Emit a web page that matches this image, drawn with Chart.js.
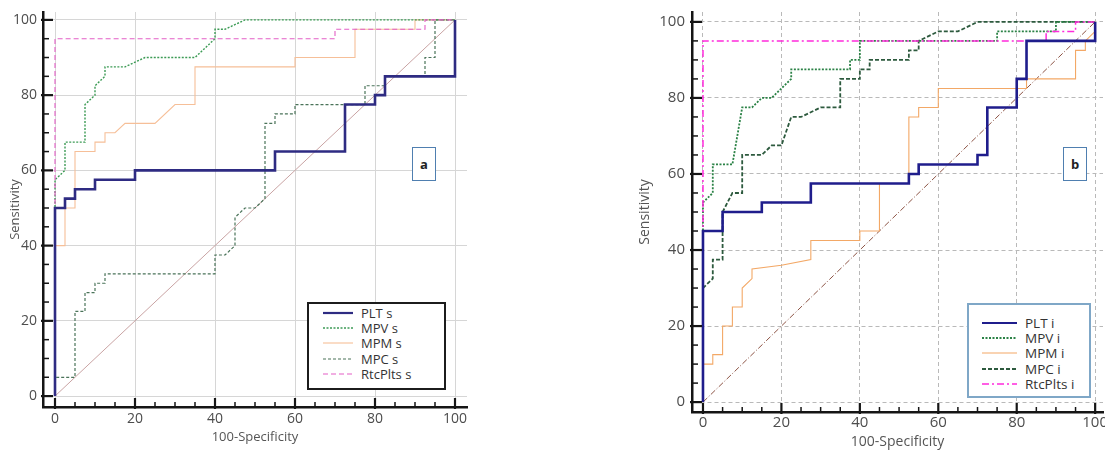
<!DOCTYPE html>
<html>
<head>
<meta charset="utf-8">
<script src="https://cdn.jsdelivr.net/npm/chart.js@4.4.1/dist/chart.umd.min.js"></script>
<style>
  body { margin: 0; background: #fff; font-family: "Open Sans", sans-serif; }
  #page { position: relative; width: 1105px; height: 450px; overflow: hidden; }
  .panel { position: absolute; top: 0; }
  .legend { position: absolute; box-sizing: border-box; background: #fff; color: #333; }
  .legend .row { display: flex; align-items: center; }
  .legend svg { display: block; margin-right: 8px; }
  .tag { position: absolute; box-sizing: border-box; border: 1px solid #4f7fb0; background: #fff;
         display: flex; align-items: center; justify-content: center; font: bold 13px "Open Sans", sans-serif; color: #222; }
</style>
</head>
<body>
<div id="page">
  <canvas id="chartA" class="panel" width="480" height="450" style="left:0"></canvas>
  <canvas id="chartB" class="panel" width="475" height="450" style="left:630px"></canvas>
  <div id="legendA" class="legend"></div>
  <div id="legendB" class="legend"></div>
  <div class="tag" style="left:412px;top:147px;width:24px;height:34px">a</div>
  <div class="tag" style="left:1063px;top:147px;width:24px;height:34px">b</div>
</div>
<script>
// ---- axis ticks ----
const AXIS_TICKS = [0, 5, 10, 15, 20, 25, 30, 35, 40, 45, 50, 55, 60, 65, 70, 75, 80, 85, 90, 95, 100];
const MAJOR_TICKS = [0, 20, 40, 60, 80, 100];

// ---- panel a (s) : [100-Specificity, Sensitivity] ----
const LABELS_S = ['PLT s', 'MPV s', 'MPM s', 'MPC s', 'RtcPlts s'];
const PLT_S = [[0,0],[0,50],[2.5,50],[2.5,52.5],[5,52.5],[5,55],[10,55],[10,57.5],[20,57.5],[20,60],[55,60],[55,65],
  [72.5,65],[72.5,77.5],[80,77.5],[80,80],[82.5,80],[82.5,85],[100,85],[100,100]];
const MPV_S = [[0,0],[0,57.5],[2.5,60],[2.5,67.5],[7.5,67.5],[7.5,77.5],[10,80],[10,82.5],[12.5,85],[12.5,87.5],
  [17.5,87.5],[22.5,90],[35,90],[40,95],[40,97.5],[42.5,97.5],[47.5,100],[100,100]];
const MPM_S = [[0,0],[0,40],[2.5,40],[2.5,50],[5,50],[5,65],[10,65],[10,67.5],[12.5,67.5],[12.5,70],[15,70],
  [17.5,72.5],[25,72.5],[30,77.5],[35,77.5],[35,87.5],[60,87.5],[60,90],[75,90],[75,97.5],[90,97.5],[90,100],[100,100]];
const MPC_S = [[0,0],[0,5],[5,5],[5,22.5],[7.5,22.5],[7.5,27.5],[10,27.5],[10,30],[12.5,30],[12.5,32.5],[40,32.5],
  [40,37.5],[42.5,37.5],[45,40],[45,47.5],[47.5,50],[50,50],[52.5,52.5],[52.5,72.5],[55,72.5],[55,75],[60,75],[60,77.5],
  [77.5,77.5],[77.5,82.5],[82.5,82.5],[82.5,85],[92.5,85],[92.5,90],[95,90],[95,100],[100,100]];
const RTC_S = [[0,0],[0,95],[70,95],[70,97.5],[92.5,97.5],[92.5,100],[100,100]];

// ---- panel b (i) ----
const LABELS_I = ['PLT i', 'MPV i', 'MPM i', 'MPC i', 'RtcPlts i'];
const PLT_I = [[0,0],[0,45],[5,45],[5,50],[15,50],[15,52.5],[27.5,52.5],[27.5,57.5],[52.5,57.5],[52.5,60],[55,60],
  [55,62.5],[70,62.5],[70,65],[72.5,65],[72.5,77.5],[80,77.5],[80,85],[82.5,85],[82.5,95],[100,95],[100,100]];
const MPV_I = [[0,0],[0,52.5],[2.5,55],[2.5,62.5],[7.5,62.5],[10,77.5],[12.5,77.5],[15,80],[17.5,80],[22.5,85],
  [22.5,87.5],[37.5,87.5],[37.5,90],[40,90],[40,95],[75,95],[75,97.5],[90,97.5],[90,100],[100,100]];
const MPM_I = [[0,0],[0,10],[2.5,10],[2.5,12.5],[5,12.5],[5,20],[7.5,20],[7.5,25],[10,25],[10,30],[12.5,32.5],
  [12.5,35],[20,36],[27.5,37.5],[27.5,42.5],[40,42.5],[40,45],[45,45],[45,57.5],[52.5,57.5],[52.5,75],[55,75],
  [55,77.5],[60,77.5],[60,82.5],[82.5,82.5],[82.5,85],[95,85],[95,92.5],[97.5,92.5],[97.5,95],[100,97.5],[100,100]];
const MPC_I = [[0,0],[0,30],[2.5,32.5],[2.5,37.5],[5,37.5],[5,50],[7.5,55],[10,55],[10,65],[15,65],[17.5,67.5],
  [20,67.5],[22.5,75],[25,75],[30,77.5],[35,77.5],[35,85],[40,85],[40,87.5],[42.5,87.5],[42.5,90],[52.5,90],
  [52.5,92.5],[55,92.5],[55,95],[60,97.5],[65,97.5],[70,100],[100,100]];
const RTC_I = [[0,0],[0,95],[87.5,95],[87.5,97.5],[95,97.5],[95,100],[100,100]];

const REF_LINE = [[0,0],[100,100]];

// ---- styles ----
const STYLE_S = [
  { color: '#2e2b82', width: 2.6, dash: [], order: 1 },
  { color: '#3c9b55', width: 1.4, dash: [2, 1.5], order: 3 },
  { color: '#f6bf98', width: 1.1, dash: [], order: 5 },
  { color: '#4a7359', width: 1.2, dash: [3, 2], order: 4 },
  { color: '#e35fc6', width: 1.1, dash: [5, 3], order: 2 },
];
const STYLE_I = [
  { color: '#1f1d8c', width: 2.6, dash: [], order: 1 },
  { color: '#2b8246', width: 1.8, dash: [2, 1.5], order: 3 },
  { color: '#f3a866', width: 1.1, dash: [], order: 5 },
  { color: '#2d5a3e', width: 1.8, dash: [4, 2], order: 4 },
  { color: '#ff2bdc', width: 1.5, dash: [7, 3, 2, 3], order: 2 },
];

const inwardTicks = {
  id: 'inwardTicks',
  afterDraw(chart) {
    const { ctx, chartArea: a, scales: { x, y } } = chart;
    ctx.save();
    ctx.strokeStyle = '#151515';
    AXIS_TICKS.forEach(v => {
      const major = MAJOR_TICKS.includes(v);
      ctx.lineWidth = major ? 2.2 : 1.5;
      const px = x.getPixelForValue(v);
      ctx.beginPath(); ctx.moveTo(px, a.bottom + (major ? 2 : 0)); ctx.lineTo(px, a.bottom - (major ? 9 : 5)); ctx.stroke();
      const py = y.getPixelForValue(v);
      ctx.beginPath(); ctx.moveTo(a.left - (major ? 2 : 0), py); ctx.lineTo(a.left + (major ? 10 : 6), py); ctx.stroke();
    });
    ctx.restore();
  }
};

function axisOpts(p, horizontal) {
  return {
    type: 'linear',
    min: horizontal ? p.xMin : p.yMin,
    max: horizontal ? p.xMax : p.yMax,
    afterBuildTicks: s => { s.ticks = AXIS_TICKS.map(v => ({ value: v })); },
    afterFit: s => {
      if (horizontal) s.height = p.xAxisH; else s.width = p.yAxisW;
      s.paddingLeft = 0; s.paddingRight = 0; s.paddingTop = 0; s.paddingBottom = 0;
    },
    grid: {
      drawTicks: false,
      color: c => (c.tick && MAJOR_TICKS.includes(c.tick.value)) ? p.grid : 'rgba(0,0,0,0)',
      lineWidth: 1,
    },
    border: { display: true, color: '#151515', width: 2.5, dash: p.gridDash },
    ticks: {
      autoSkip: false, maxRotation: 0, color: '#4d4d4d',
      padding: horizontal ? p.xTickPad : p.yTickPad,
      font: { family: 'Open Sans', size: p.tickFont },
      callback: v => MAJOR_TICKS.includes(v) ? String(v) : '',
    },
    title: {
      display: true, color: '#555',
      text: horizontal ? '100-Specificity' : 'Sensitivity',
      font: { family: 'Open Sans', size: p.titleFont },
      padding: horizontal ? { top: 0, bottom: p.xTitlePad } : { top: p.yTitlePad, bottom: 0 },
    },
  };
}

function makeRoc(p, labels, series, styles) {
  const datasets = series.map((pts, i) => ({
    label: labels[i],
    data: pts.map(q => ({ x: q[0], y: q[1] })),
    borderColor: styles[i].color, borderWidth: styles[i].width, borderDash: styles[i].dash,
    order: styles[i].order, pointRadius: 0, tension: 0, fill: false,
  }));
  datasets.push({
    label: 'ref', data: REF_LINE.map(q => ({ x: q[0], y: q[1] })),
    borderColor: p.refColor, borderWidth: 1, borderDash: p.refDash, order: 9, pointRadius: 0, fill: false,
  });
  new Chart(document.getElementById(p.canvas), {
    type: 'line',
    data: { datasets },
    options: {
      responsive: false, animation: false, devicePixelRatio: 1,
      layout: { padding: { left: 0, top: p.padTop, right: p.padRight, bottom: 0 } },
      plugins: { legend: { display: false }, tooltip: { enabled: false } },
      scales: { x: axisOpts(p, true), y: axisOpts(p, false) },
    },
    plugins: [inwardTicks],
  });
}

function buildLegend(id, labels, styles, box) {
  const el = document.getElementById(id);
  Object.assign(el.style, {
    left: box.left + 'px', top: box.top + 'px', width: box.w + 'px', height: box.h + 'px',
    border: '2px solid ' + box.border, padding: box.padTop + 'px 0 0 ' + box.padLeft + 'px',
    font: box.font + 'px "Open Sans", sans-serif',
  });
  el.innerHTML = labels.map((lab, i) => {
    const st = styles[i];
    return `<div class="row" style="height:${box.rowH}px"><svg width="${box.sample}" height="6">
      <line x1="0" y1="3" x2="${box.sample}" y2="3" stroke="${st.color}" stroke-width="${Math.min(st.width, 2.2)}"
      stroke-dasharray="${st.dash.join(' ')}"/></svg><span>${lab}</span></div>`;
  }).join('');
}

const PANEL_A = { canvas: 'chartA', xMin: -3, xMax: 103, yMin: -2.9, yMax: 102.1, xAxisH: 43, yAxisW: 43,
  padTop: 12, padRight: 13, tickFont: 14, titleFont: 13, xTickPad: 4, yTickPad: 6, xTitlePad: 5, yTitlePad: 7,
  grid: '#d6d6d6', gridDash: [], refColor: '#c9a3a3', refDash: [] };
const PANEL_B = { canvas: 'chartB', xMin: -2.8, xMax: 102, yMin: -2.6, yMax: 102.6, xAxisH: 38, yAxisW: 62,
  padTop: 12, padRight: 2, tickFont: 15, titleFont: 14, xTickPad: 2, yTickPad: 7, xTitlePad: 0, yTitlePad: 7,
  grid: '#b9b9b9', gridDash: [4, 3], refColor: '#8c5344', refDash: [6, 2, 1, 2] };

makeRoc(PANEL_A, LABELS_S, [PLT_S, MPV_S, MPM_S, MPC_S, RTC_S], STYLE_S);
makeRoc(PANEL_B, LABELS_I, [PLT_I, MPV_I, MPM_I, MPC_I, RTC_I], STYLE_I);

buildLegend('legendA', LABELS_S, STYLE_S,
  { left: 307, top: 302, w: 139, h: 88, border: '#1c1c1c', padTop: 1, padLeft: 14, rowH: 15.4, sample: 30, font: 13 });
buildLegend('legendB', LABELS_I, STYLE_I,
  { left: 967, top: 303, w: 124, h: 95, border: '#7fa7c7', padTop: 10, padLeft: 13, rowH: 15.3, sample: 35, font: 13.5 });
</script>
</body>
</html>
